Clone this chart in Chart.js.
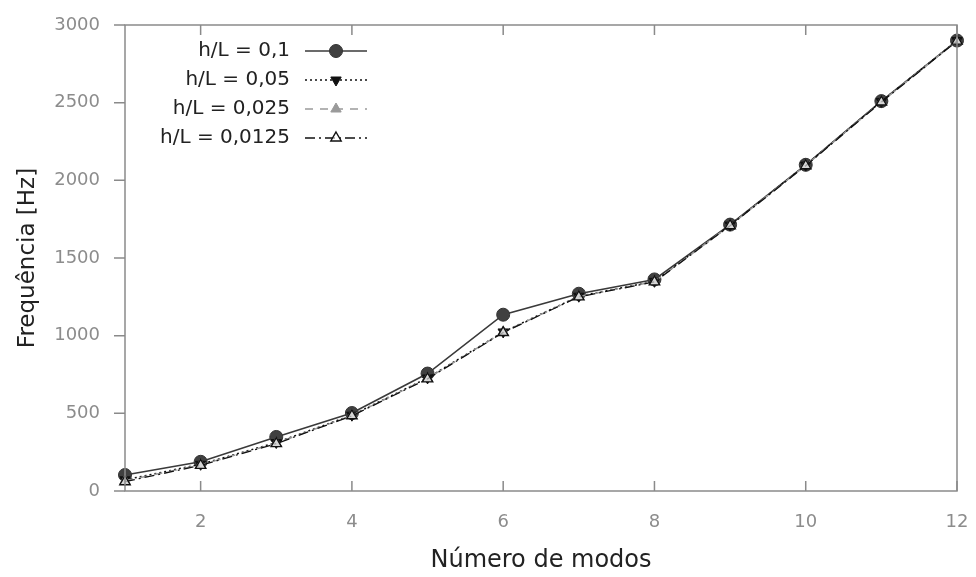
<!DOCTYPE html>
<html>
<head>
<meta charset="utf-8">
<script src="https://cdn.jsdelivr.net/npm/chart.js@4/dist/chart.umd.min.js"></script>
<style>
  html, body { margin: 0; padding: 0; background: #fff; }
  #wrap { width: 976px; height: 577px; position: relative; }
</style>
</head>
<body>
<div id="wrap"><canvas id="c" width="976" height="577"></canvas></div>
<script>
// Mode numbers (x) and natural frequencies in Hz for each mesh ratio h/L
const modes = [1, 2, 3, 4, 5, 6, 7, 8, 9, 10, 11, 12];
const freqH0100 = [103, 188, 348, 502, 756, 1135, 1270, 1362, 1715, 2100, 2510, 2900];
const freqH0050 = [72, 172, 312, 488, 728, 1024, 1254, 1350, 1712, 2098, 2508, 2900];
const freqH0025 = [66, 168, 308, 486, 725, 1022, 1252, 1348, 1710, 2096, 2506, 2898];
const freqH0125 = [60, 165, 305, 484, 722, 1020, 1250, 1346, 1708, 2094, 2504, 2896];

const seriesLabels = ['h/L = 0,1', 'h/L = 0,05', 'h/L = 0,025', 'h/L = 0,0125'];
const xTickValues = [2, 4, 6, 8, 10, 12];
const yTickValues = [0, 500, 1000, 1500, 2000, 2500, 3000];

const FONT = "'DejaVu Sans', Verdana, sans-serif";

function pts(ys) { return modes.map((x, i) => ({ x: x, y: ys[i] })); }

const datasets = [
  { label: seriesLabels[0], data: pts(freqH0100), borderColor: '#3a3a3a', borderWidth: 1.6,
    pointStyle: 'circle', pointRadius: 6.5, pointBackgroundColor: '#404040', pointBorderColor: '#333',
    pointBorderWidth: 1, borderDash: [], order: 3 },
  { label: seriesLabels[1], data: pts(freqH0050), borderColor: '#111', borderWidth: 1.5,
    pointStyle: 'triangle', pointRotation: 180, pointRadius: 6, pointBackgroundColor: '#111', pointBorderColor: '#111',
    pointBorderWidth: 1, borderDash: [2, 3], order: 2 },
  { label: seriesLabels[2], data: pts(freqH0025), borderColor: '#9a9a9a', borderWidth: 1.5,
    pointStyle: 'triangle', pointRadius: 6, pointBackgroundColor: '#9a9a9a', pointBorderColor: '#9a9a9a',
    pointBorderWidth: 1, borderDash: [8, 7], order: 1 },
  { label: seriesLabels[3], data: pts(freqH0125), borderColor: '#111', borderWidth: 1.3,
    pointStyle: 'triangle', pointRadius: 6, pointBackgroundColor: 'rgba(255,255,255,0.6)', pointBorderColor: '#111',
    pointBorderWidth: 1.4, borderDash: [10, 4, 2, 4], order: 0 }
];
datasets.forEach(d => { d.fill = false; d.tension = 0; d.clip = false; });

// Frame around the plot, inward x ticks (top and bottom) and outward y ticks
const framePlugin = {
  id: 'frame',
  afterDraw(chart) {
    const { ctx, chartArea: a, scales } = chart;
    ctx.save();
    ctx.strokeStyle = '#8a8a8a';
    ctx.lineWidth = 1.5;
    ctx.strokeRect(a.left, a.top, a.right - a.left, a.bottom - a.top);
    ctx.beginPath();
    xTickValues.forEach(v => {
      const px = scales.x.getPixelForValue(v);
      ctx.moveTo(px, a.bottom); ctx.lineTo(px, a.bottom - 10);
      ctx.moveTo(px, a.top); ctx.lineTo(px, a.top + 10);
    });
    yTickValues.forEach(v => {
      const py = scales.y.getPixelForValue(v);
      ctx.moveTo(a.left - 11, py); ctx.lineTo(a.left, py);
    });
    ctx.stroke();
    ctx.restore();
  }
};

// Legend inside the plot: label right-aligned, then a line sample with its marker
const legendPlugin = {
  id: 'innerLegend',
  afterDraw(chart) {
    const { ctx } = chart;
    const textRight = 290, lineL = 305, lineR = 367, markX = 336;
    const rowY = [51, 80, 109, 138];
    chart.data.datasets.forEach((d, i) => {
      const y = rowY[i];
      ctx.save();
      ctx.font = '20px ' + FONT;
      ctx.fillStyle = '#222';
      ctx.textAlign = 'right';
      ctx.textBaseline = 'middle';
      ctx.fillText(d.label, textRight, y);
      ctx.strokeStyle = d.borderColor;
      ctx.lineWidth = d.borderWidth;
      ctx.setLineDash(d.borderDash || []);
      ctx.beginPath();
      ctx.moveTo(lineL, y); ctx.lineTo(lineR, y);
      ctx.stroke();
      ctx.setLineDash([]);
      ctx.fillStyle = d.pointBackgroundColor;
      ctx.strokeStyle = d.pointBorderColor;
      ctx.lineWidth = d.pointBorderWidth;
      Chart.helpers.drawPoint(ctx, {
        pointStyle: d.pointStyle, rotation: d.pointRotation || 0,
        radius: d.pointRadius, borderWidth: d.pointBorderWidth
      }, markX, y);
      ctx.restore();
    });
  }
};

new Chart(document.getElementById('c'), {
  type: 'line',
  data: { datasets: datasets },
  options: {
    responsive: false,
    animation: false,
    layout: { padding: { top: 25, right: 19, left: 0, bottom: 0 } },
    plugins: { legend: { display: false }, tooltip: { enabled: false } },
    scales: {
      x: {
        type: 'linear', min: 1, max: 12,
        afterBuildTicks(s) { s.ticks = xTickValues.map(v => ({ value: v })); },
        afterFit(s) { s.height = 86; },
        grid: { display: false, drawTicks: true, tickLength: 21 },
        border: { display: false },
        ticks: { color: '#8c8c8c', font: { family: FONT, size: 18 }, padding: 0, maxRotation: 0,
                 callback: v => String(v) },
        title: { display: true, text: 'Número de modos', color: '#222',
                 font: { family: FONT, size: 24 }, padding: { top: 0, bottom: 2 } }
      },
      y: {
        min: 0, max: 3000,
        afterBuildTicks(s) { s.ticks = yTickValues.map(v => ({ value: v })); },
        afterFit(s) { s.width = 125; },
        grid: { display: false, drawTicks: true, tickLength: 25 },
        border: { display: false },
        ticks: { color: '#8c8c8c', font: { family: FONT, size: 18 }, padding: 0,
                 callback: v => String(v) },
        title: { display: true, text: 'Frequência [Hz]', color: '#222',
                 font: { family: FONT, size: 23 }, padding: { top: 14, bottom: 0 } }
      }
    }
  },
  plugins: [framePlugin, legendPlugin]
});
</script>
</body>
</html>
